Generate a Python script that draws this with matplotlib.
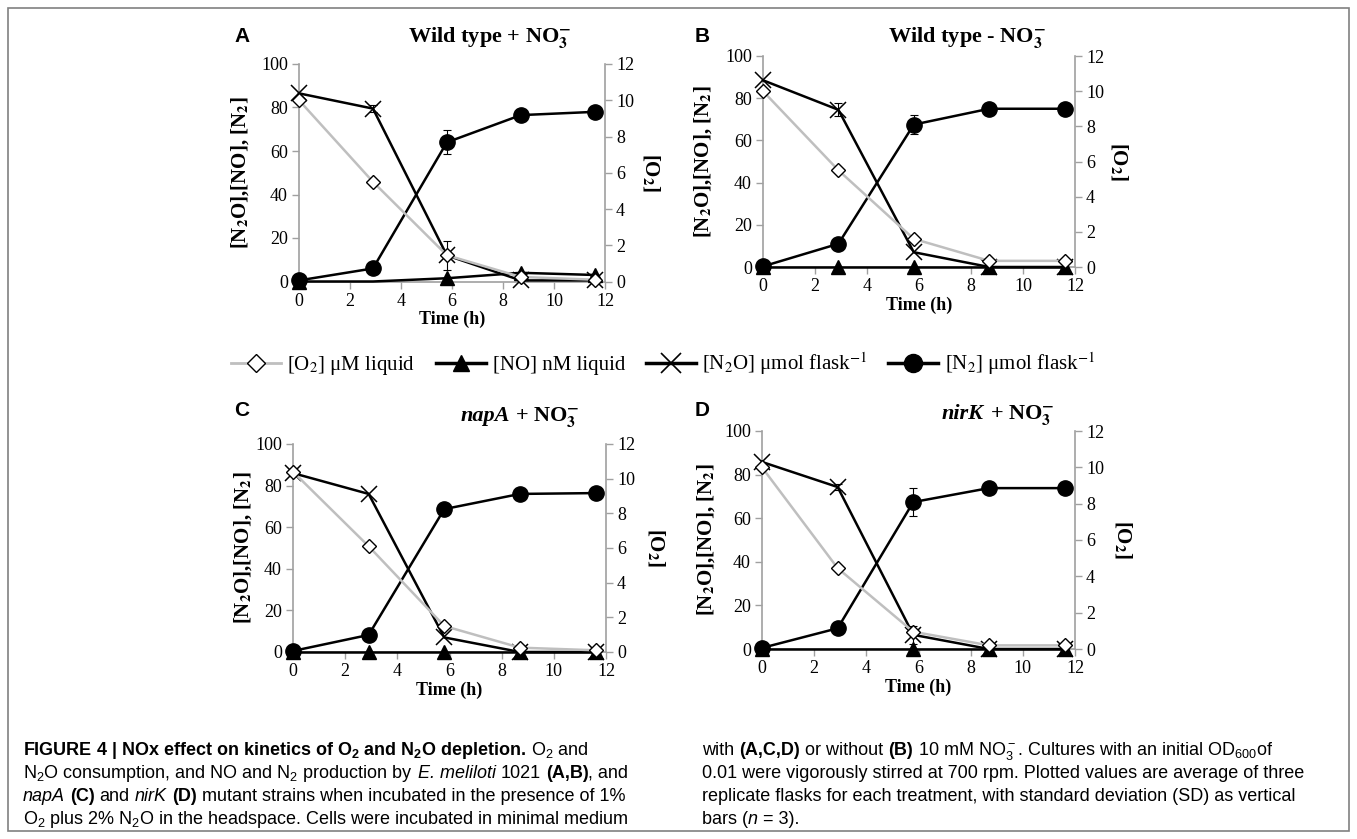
import numpy as np
import matplotlib.pyplot as plt
from matplotlib.font_manager import FontProperties
from matplotlib.lines import Line2D
from matplotlib.patches import Rectangle

# datos (tiempo en h)
horas = [0, 2.9, 5.8, 8.7, 11.6]

# panel A: wild type + NO3-
o2_A = [10.0, 5.5, 1.45, 0.25, 0.1]
no_A = [0, 0, 1.5, 4.0, 3.0]
n2o_A = [86.5, 79.5, 12.0, 0.5, 0.5]
n2_A = [0.5, 6.0, 64.0, 76.5, 78.0]
n2o_err_A = [0, 1.5, 6.5, 0, 0]
n2_err_A = [0, 0, 5.5, 0, 0]

# panel B: wild type - NO3-
o2_B = [10.0, 5.5, 1.6, 0.35, 0.35]
no_B = [0, 0, 0, 0, 0]
n2o_B = [88.5, 74.5, 7.0, 0, 0]
n2_B = [0.3, 11.0, 67.5, 75.0, 75.0]
n2o_err_B = [0, 3.0, 0, 0, 0]
n2_err_B = [0, 0, 4.5, 0, 0]

# panel C: napA + NO3-
o2_C = [10.4, 6.1, 1.5, 0.25, 0.1]
no_C = [0, 0, 0, 0, 0]
n2o_C = [86.0, 76.0, 7.0, 0, 0]
n2_C = [0.5, 8.2, 68.7, 76.0, 76.4]
n2o_err_C = [0, 0, 0, 0, 0]
n2_err_C = [0, 0, 0, 0, 0]

# panel D: nirK + NO3-
o2_D = [10.0, 4.45, 0.95, 0.2, 0.2]
no_D = [0, 0, 0, 0, 0]
n2o_D = [85.8, 74.3, 6.5, 0, 0]
n2_D = [0.5, 9.5, 67.4, 73.8, 73.8]
n2o_err_D = [0, 1.5, 4.0, 0, 0]
n2_err_D = [0, 0, 6.5, 0, 0]

ticks_x = [0, 2, 4, 6, 8, 10, 12]
ticks_izq = [0, 20, 40, 60, 80, 100]
ticks_der = [0, 2, 4, 6, 8, 10, 12]

plt.rcParams["font.family"] = "Liberation Serif"
plt.rcParams["mathtext.fontset"] = "custom"
plt.rcParams["mathtext.rm"] = "Liberation Sans"
plt.rcParams["mathtext.bf"] = "Liberation Sans:bold"
plt.rcParams["mathtext.it"] = "Liberation Sans:italic"

W, H = 1357, 839
fig = plt.figure(figsize=(W / 100, H / 100), dpi=100)
renderer = fig.canvas.get_renderer()
gris = "#A0A0A0"
fticks = dict(fontfamily="Liberation Serif", fontsize=13)


def caja(l, t, r, b):
    return [l / W, 1 - b / H, (r - l) / W, (b - t) / H]


def ancho(s, **kw):
    t = fig.text(0, 0, s, **kw)
    w = t.get_window_extent(renderer).width
    t.remove()
    return w


def tramos(x, y, partes, centrado=False):
    # dibuja trozos de texto con distinto estilo uno tras otro (x, y en pixeles)
    medidas = []
    for s, kw in partes:
        esp = ancho("a a", **kw) - ancho("aa", **kw)
        core = s.strip(" ")
        if core:
            izq = len(s) - len(s.lstrip(" "))
            der = len(s) - len(s.rstrip(" "))
            w = ancho(core, **kw)
        else:
            izq, der, w = len(s), 0, 0
        medidas.append((core, kw, izq * esp, w, der * esp))
    if centrado:
        total = sum(a + b + c for _, _, a, b, c in medidas)
        x = x - total / 2
    for core, kw, a, w, c in medidas:
        x += a
        if core:
            fig.text(x / W, 1 - y / H, core, va="baseline", ha="left", **kw)
        x += w + c


def panel(pos, o2, no, n2o, n2, n2o_err, n2_err, no_marcas):
    ax = fig.add_axes(caja(*pos))
    ax2 = ax.twinx()
    ax.plot(horas, no, color="black", lw=1.8, marker="^", ms=10.5,
            markevery=no_marcas, clip_on=False, zorder=3)
    ax.plot(horas, n2o, color="black", lw=1.8, marker="x", ms=12, mew=1.1,
            clip_on=False, zorder=3)
    ax.plot(horas, n2, color="black", lw=1.8, marker="o", ms=11,
            clip_on=False, zorder=3)
    for serie, err in [(n2o, n2o_err), (n2, n2_err)]:
        idx = [i for i in range(len(err)) if err[i] > 0]
        if idx:
            ax.errorbar([horas[i] for i in idx], [serie[i] for i in idx],
                        yerr=[err[i] for i in idx], fmt="none", ecolor="black",
                        elinewidth=0.8, capsize=3, capthick=0.8, zorder=2)
    ax2.plot(horas, o2, color="#BFBFBF", lw=1.8, marker="D", ms=7.5,
             mfc="white", mec="black", mew=1.0, clip_on=False, zorder=3)
    ax.set_xlim(0, 12)
    ax.set_ylim(0, 100)
    ax2.set_ylim(0, 12)
    ax.set_xticks(ticks_x, [str(t) for t in ticks_x], **fticks)
    ax.set_yticks(ticks_izq, [str(t) for t in ticks_izq], **fticks)
    ax2.set_yticks(ticks_der, [str(t) for t in ticks_der], **fticks)
    for s in ["top", "right"]:
        ax.spines[s].set_visible(False)
    for s in ["top", "left", "bottom"]:
        ax2.spines[s].set_visible(False)
    for sp in [ax.spines["left"], ax.spines["bottom"], ax2.spines["right"]]:
        sp.set_color(gris)
        sp.set_linewidth(1.2)
    ax.tick_params(axis="both", direction="out", length=5, width=1, color=gris, pad=3)
    ax2.tick_params(axis="y", direction="out", length=5, width=1, color=gris, pad=3)
    ax.set_xlabel("Time (h)", fontsize=13, fontweight="bold", labelpad=1)
    return ax


fserif = dict(fontfamily="Liberation Serif", fontweight="bold", fontsize=16,
              math_fontfamily="stix")
ylab = r"[N$_\mathbf{2}$O],[NO], [N$_\mathbf{2}$]"
o2lab = r"[O$_\mathbf{2}$]"
no3 = r"NO$_\mathbf{3}^\mathbf{-}$"

paneles = [
    ((299, 64, 605, 281.5), o2_A, no_A, n2o_A, n2_A, n2o_err_A, n2_err_A, [0, 2, 3, 4],
     "A", 242, 37, 240, 650, [("Wild type + " + no3, fserif)], 490, 42),
    ((763, 56, 1075, 267), o2_B, no_B, n2o_B, n2_B, n2o_err_B, n2_err_B, [0, 1, 2, 3, 4],
     "B", 702, 37, 703, 1118, [("Wild type - " + no3, fserif)], 967, 42),
    ((293, 444, 606, 652), o2_C, no_C, n2o_C, n2_C, n2o_err_C, n2_err_C, [0, 1, 2, 3, 4],
     "C", 242, 410, 243, 655,
     [("napA", dict(fserif, fontstyle="italic")), (" + " + no3, fserif)], 520, 421),
    ((762, 431, 1075, 649), o2_D, no_D, n2o_D, n2_D, n2o_err_D, n2_err_D, [0, 2, 3, 4],
     "D", 702, 410, 706, 1122,
     [("nirK", dict(fserif, fontstyle="italic")), (" + " + no3, fserif)], 998, 419),
]

for (pos, o2, no, n2o, n2, e1, e2, marcas, letra, lx, ly, yx, ox, titulo, tx, ty) in paneles:
    panel(pos, o2, no, n2o, n2, e1, e2, marcas)
    yc = (pos[1] + pos[3]) / 2
    fig.text(lx / W, 1 - ly / H, letra, fontfamily="Liberation Sans", fontweight="bold",
             fontsize=15, ha="center", va="center")
    fig.text(yx / W, 1 - yc / H, ylab, rotation=90, ha="center", va="center",
             fontsize=15, fontweight="bold", math_fontfamily="stix")
    fig.text(ox / W, 1 - yc / H, o2lab, rotation=270, ha="center", va="center",
             fontsize=15, fontweight="bold", math_fontfamily="stix")
    tramos(tx, ty, titulo, centrado=True)

# leyenda comun
manejadores = [
    Line2D([], [], color="#BFBFBF", lw=2, marker="D", ms=9, mfc="white", mec="black", mew=1),
    Line2D([], [], color="black", lw=2.5, marker="^", ms=12),
    Line2D([], [], color="black", lw=2.5, marker="x", ms=14, mew=1.2),
    Line2D([], [], color="black", lw=2.5, marker="o", ms=13),
]
etiquetas = [r"[O$_2$] μM liquid", "[NO] nM liquid",
             r"[N$_2$O] μmol flask$^{-1}$", r"[N$_2$] μmol flask$^{-1}$"]
fig.legend(manejadores, etiquetas, loc="center", bbox_to_anchor=(663 / W, 1 - 364 / H),
           ncol=4, frameon=False, handlelength=2.4, handletextpad=0.3, columnspacing=1.0,
           prop=FontProperties(family="Liberation Serif", size=15, math_fontfamily="stix"))

# pie de figura
fs = 13
r = dict(fontfamily="Liberation Sans", fontsize=fs)
b = dict(r, fontweight="bold")
i = dict(r, fontstyle="italic")
izquierda = [
    [(r"FIGURE 4 | NOx effect on kinetics of O$_\mathbf{2}$ and N$_\mathbf{2}$O depletion.", b),
     (r" O$_2$ and", r)],
    [(r"N$_2$O consumption, and NO and N$_2$ production by ", r), ("E. meliloti", i),
     (" 1021 ", r), ("(A,B)", b), (", and", r)],
    [("napA", i), (" ", r), ("(C)", b), (" and ", r), ("nirK", i), (" ", r), ("(D)", b),
     (" mutant strains when incubated in the presence of 1%", r)],
    [(r"O$_2$ plus 2% N$_2$O in the headspace. Cells were incubated in minimal medium", r)],
]
derecha = [
    [("with ", r), ("(A,C,D)", b), (" or without ", r), ("(B)", b),
     (r" 10 mM NO$_3^-$. Cultures with an initial OD$_{600}$of", r)],
    [("0.01 were vigorously stirred at 700 rpm. Plotted values are average of three", r)],
    [("replicate flasks for each treatment, with standard deviation (SD) as vertical", r)],
    [("bars (", r), ("n", i), (" = 3).", r)],
]
for k, linea in enumerate(izquierda):
    tramos(23, 755 + 23 * k, linea)
for k, linea in enumerate(derecha):
    tramos(702, 755 + 23 * k, linea)

fig.patches.append(Rectangle((8 / W, 1 - 831 / H), 1341 / W, 823 / H, fill=False,
                             ec="#808080", lw=1.2, transform=fig.transFigure))

fig.savefig("out.png", dpi=100)
